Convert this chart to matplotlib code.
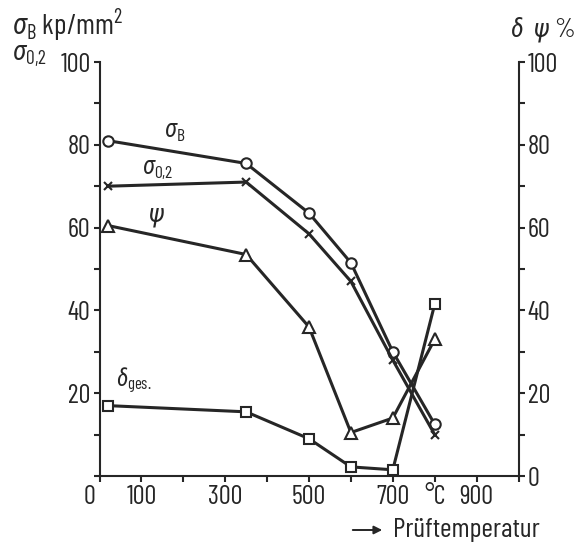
import matplotlib
matplotlib.use("Agg")
import matplotlib.pyplot as plt
import matplotlib.transforms as mtransforms
from matplotlib.patches import FancyArrowPatch

# Test temperatures (°C)
temperature = [20, 350, 500, 600, 700, 800]

# Tensile strength and 0.2 % proof stress (kp/mm²)
sigma_B = [81, 75.5, 63.5, 51.5, 30, 12.5]
sigma_02 = [70, 71, 58.5, 47, 28, 10]

# Reduction of area and total elongation (%)
psi = [60.5, 53.5, 36, 10.5, 14, 33]
delta_ges = [17, 15.5, 9, 2.2, 1.5, 41.5]

x_ticks = [0, 100, 200, 300, 400, 500, 600, 700, 800, 900, 1000]
x_tick_labels = ["0", "100", "", "300", "", "500", "", "700", "°C", "900", ""]
y_ticks = [0, 10, 20, 30, 40, 50, 60, 70, 80, 90, 100]
left_labels = ["", "", "20", "", "40", "", "60", "", "80", "", "100"]
right_labels = ["0", "", "20", "", "40", "", "60", "", "80", "", "100"]

plt.rcParams["font.family"] = ["Barlow Condensed", "Roboto Condensed", "DejaVu Sans"]
plt.rcParams["mathtext.fontset"] = "custom"
plt.rcParams["mathtext.rm"] = "Barlow Condensed"
plt.rcParams["mathtext.it"] = "Roboto Condensed:italic"
plt.rcParams["mathtext.bf"] = "Barlow Condensed:bold"

ink = "#262626"
fs = 19

fig = plt.figure(figsize=(5.8, 5.46), dpi=100)
ax = fig.add_axes([99.5 / 580, 70 / 546, 419 / 580, 414 / 546])
ax.set_xlim(0, 1000)
ax.set_ylim(0, 100)

for side in ("top", "right"):
    ax.spines[side].set_visible(False)
for side in ("left", "bottom"):
    ax.spines[side].set_linewidth(1.5)
    ax.spines[side].set_color(ink)

ax.set_xticks(x_ticks)
ax.set_xticklabels(x_tick_labels)
ax.set_yticks(y_ticks)
ax.set_yticklabels(left_labels)
ax.tick_params(axis="both", direction="out", length=4.5, width=1.5, color=ink,
               labelsize=fs, labelcolor=ink, pad=2)
# origin label sits a little left of the corner
lbl0 = ax.get_xticklabels()[0]
lbl0.set_transform(lbl0.get_transform()
                   + mtransforms.ScaledTranslation(-10 / 100, 0, fig.dpi_scale_trans))

ax2 = ax.twinx()
ax2.set_ylim(0, 100)
for side in ("top", "left", "bottom"):
    ax2.spines[side].set_visible(False)
ax2.spines["right"].set_linewidth(1.5)
ax2.spines["right"].set_color(ink)
ax2.set_yticks(y_ticks)
ax2.set_yticklabels(right_labels)
ax2.tick_params(axis="y", direction="out", length=4.5, width=1.5, color=ink,
                labelsize=fs, labelcolor=ink, pad=2)

line_kw = dict(color=ink, lw=2.2, markerfacecolor="white", markeredgecolor=ink,
               markeredgewidth=1.5, clip_on=False, zorder=3)
ax.plot(temperature, sigma_B, marker="o", markersize=7.5, **line_kw)
ax.plot(temperature, sigma_02, marker="x", markersize=6, **line_kw)
ax.plot(temperature, psi, marker="^", markersize=9, **line_kw)
ax.plot(temperature, delta_ges, marker="s", markersize=7.5, **line_kw)

# curve labels
ax.text(180, 83, r"$\sigma_{\mathrm{B}}$", fontsize=18, color=ink, ha="center", va="center")
ax.text(138, 74.2, r"$\sigma_{0{,}2}$", fontsize=18, color=ink, ha="center", va="center")
ax.text(137, 62.5, r"$\psi$", fontsize=19, color=ink, ha="center", va="center")
ax.text(82, 23, r"$\delta_{\mathrm{ges.}}$", fontsize=17, color=ink, ha="center", va="center")

# axis titles
fig.text(12 / 580, 1 - 25 / 546, r"$\sigma_{\mathrm{B}}$ kp/mm$^2$", fontsize=21,
         color=ink, ha="left", va="center")
fig.text(12 / 580, 1 - 56 / 546, r"$\sigma_{0{,}2}$", fontsize=20, color=ink,
         ha="left", va="center")
fig.text(575 / 580, 1 - 30 / 546, r"$\delta$  $\psi$ %", fontsize=fs, color=ink,
         ha="right", va="center")

fig.text(393 / 580, 1 - 530 / 546, "Prüftemperatur", fontsize=20, color=ink,
         ha="left", va="center")
fig.add_artist(FancyArrowPatch(
    (350 / 580, 1 - 530 / 546), (385 / 580, 1 - 530 / 546),
    transform=fig.transFigure, arrowstyle="-|>", mutation_scale=12,
    color=ink, lw=1.4))

fig.savefig("out.png", dpi=100, facecolor="white")
